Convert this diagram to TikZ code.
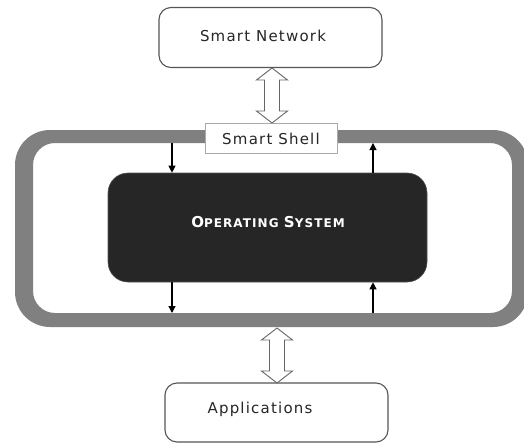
\documentclass[tikz,border=0pt]{standalone}
\usepackage{fontspec}
\setmainfont{DejaVu Sans}
\newfontfamily\lblfont[LetterSpace=8]{DejaVu Sans}
\newfontfamily\osfont[LetterSpace=9]{DejaVu Sans}
\usetikzlibrary{arrows.meta}
\definecolor{framegray}{HTML}{808080}
\definecolor{osfill}{HTML}{262626}
\definecolor{boxline}{HTML}{555555}
\definecolor{shellline}{HTML}{AAAAAA}
\definecolor{dblline}{HTML}{666666}
\tikzset{
  termbox/.style={draw=boxline,line width=1.1pt,rounded corners=12pt,fill=white,minimum width=223pt,minimum height=60pt,inner sep=0pt},
  lbl/.style={font=\lblfont\fontsize{15}{18}\selectfont,text=black!85,inner sep=0pt},
  shellbox/.style={draw=shellline,line width=0.8pt,fill=white,minimum width=132pt,minimum height=30pt,inner sep=0pt},
  osbox/.style={fill=osfill,draw=osfill!80!white,line width=0.6pt,rounded corners=20pt,minimum width=319pt,minimum height=109pt,inner sep=0pt},
  dbl/.style={draw=dblline,fill=white,line width=0.9pt,line join=miter},
  flow/.style={line width=1.1pt,-{Triangle[width=7pt,length=7pt]}}
}
\begin{document}
\begin{tikzpicture}[x=1pt,y=-1pt]
\useasboundingbox (0,0) rectangle (524,444);
% gray frame (smart shell ring)
\fill[framegray,even odd rule] [rounded corners=35pt] (15,130) rectangle (528,327)
  [rounded corners=22pt] (33,143) rectangle (512,313);
% boxes
\node[termbox] (net) at (270.5,37.5) {};
\node[lbl] (netlbl) at (263,36) {Smart Network};
\node[termbox,minimum height=59pt] (apps) at (276.5,412.5) {};
\node[lbl] (appslbl) at (260,409) {Applications};
\node[shellbox] (shell) at (271,138) {};
\node[lbl] (shelllbl) at (271,138.5) {Smart Shell};
\node[osbox] (os) at (267.5,227.5) {};
\node[text=white,inner sep=0pt,font=\osfont\bfseries] (oslbl) at (268,222)
  {\fontsize{15}{18}\selectfont O\fontsize{12}{14}\selectfont PERATING \fontsize{15}{18}\selectfont S\fontsize{12}{14}\selectfont YSTEM};
% double arrows
\coordinate (dt) at (272,68);
\coordinate (db) at (277,328);
\draw[dbl] (dt) -- ++(15.5,12) -- ++(-8,0) -- ++(0,31) -- ++(8,0) -- ++(-15.5,12)
  -- ++(-15.5,-12) -- ++(8,0) -- ++(0,-31) -- ++(-8,0) -- cycle;
\draw[dbl] (db) -- ++(15.5,12) -- ++(-8,0) -- ++(0,31) -- ++(8,0) -- ++(-15.5,12)
  -- ++(-15.5,-12) -- ++(8,0) -- ++(0,-31) -- ++(-8,0) -- cycle;
% flow arrows between ring and OS
\coordinate (rtl) at (172,143);
\coordinate (rbl) at (172,313);
\coordinate (rtr) at (373,143);
\coordinate (rbr) at (373,313);
\draw[flow] (rtl) -- (rtl |- os.north);
\draw[flow] (rbl |- os.south) -- (rbl);
\draw[flow] (rtr |- os.north) -- (rtr);
\draw[flow] (rbr) -- (rbr |- os.south);
\end{tikzpicture}
\end{document}
